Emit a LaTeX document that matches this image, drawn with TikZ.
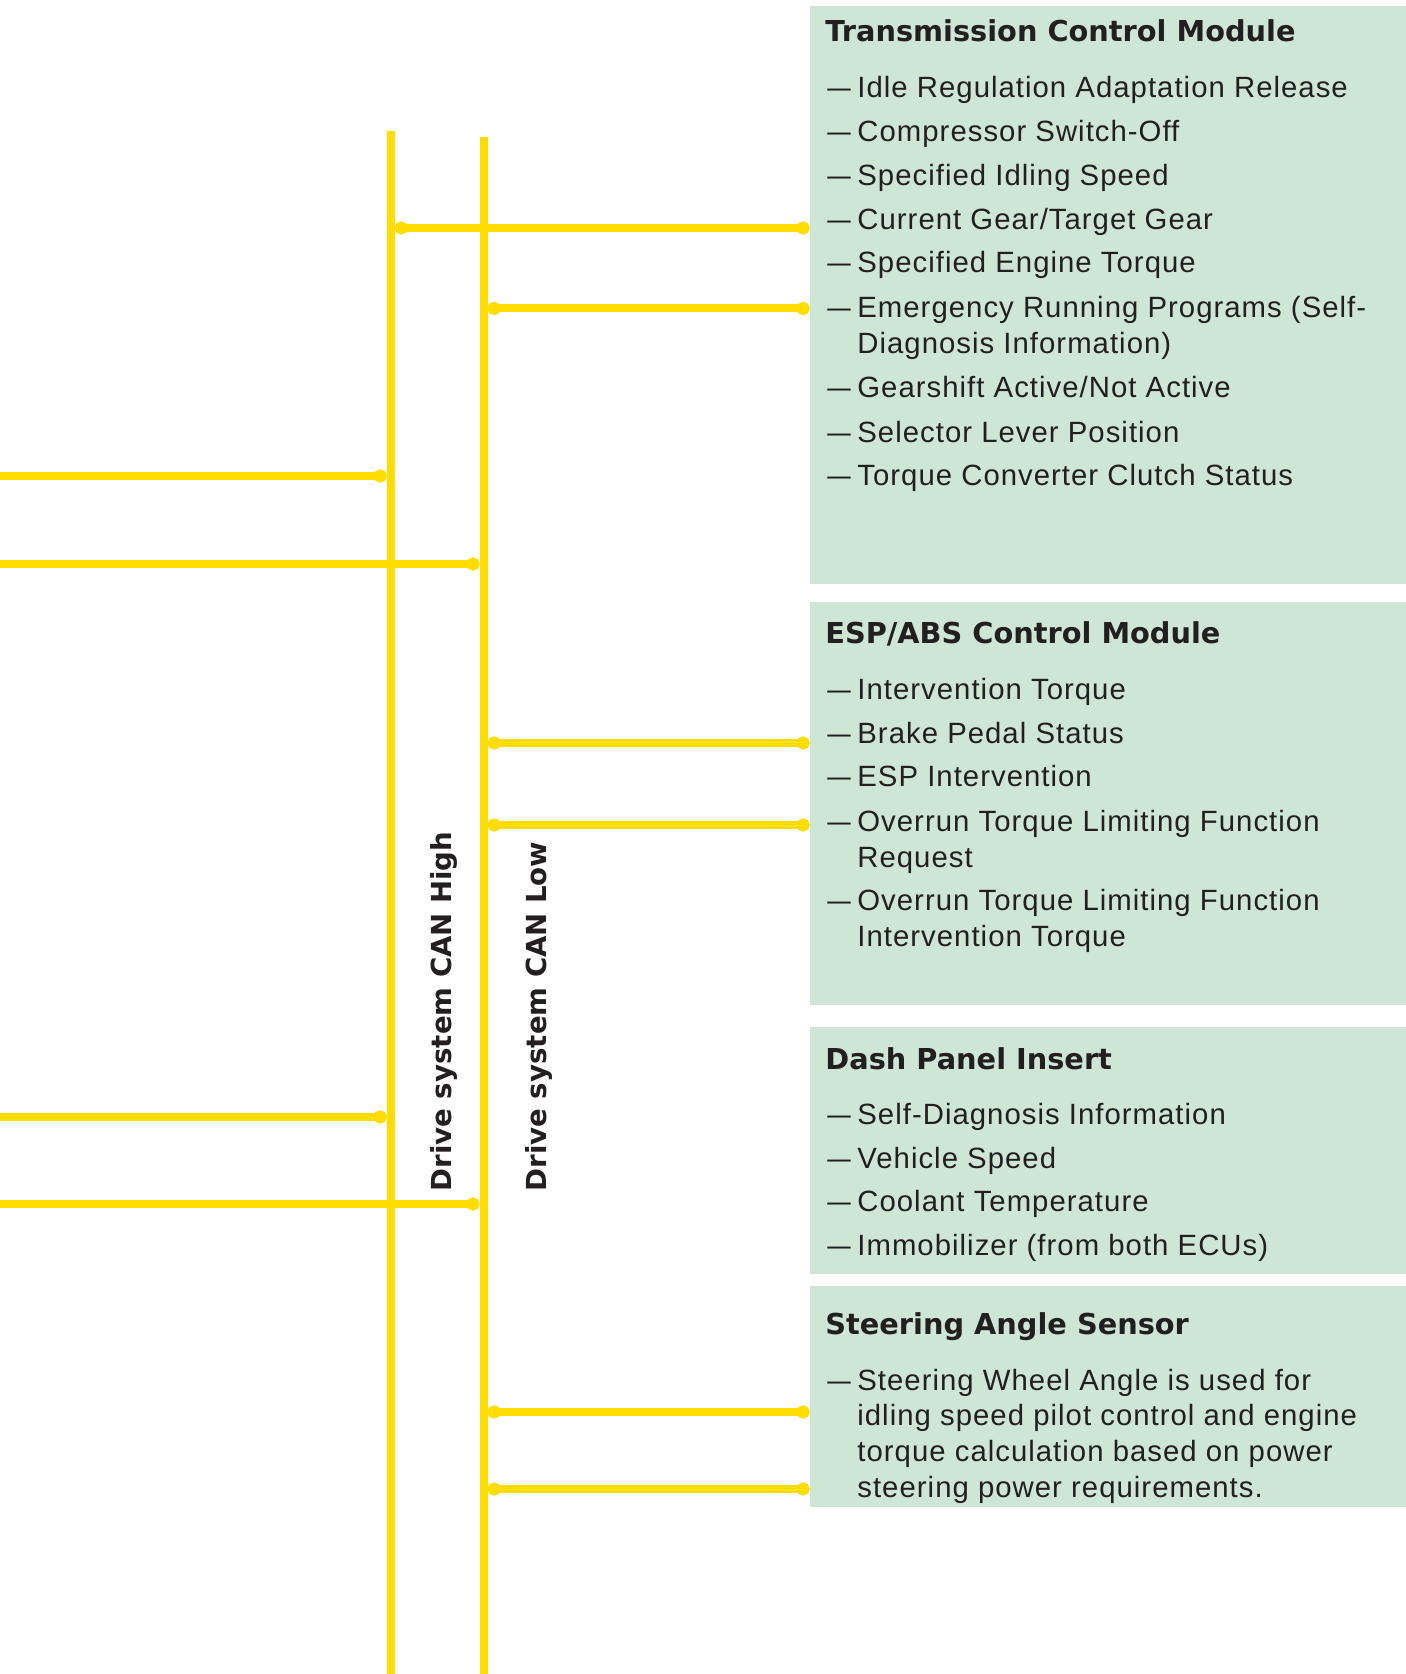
\documentclass[tikz,border=0pt]{standalone}
\usepackage{fontspec}
\setmainfont{Liberation Sans}[LetterSpace=3.5]
\newfontfamily\headfont{DejaVu Sans}
\usetikzlibrary{arrows.meta,fit}

\definecolor{canyellow}{RGB}{255,221,0}
\definecolor{modgreen}{RGB}{205,230,213}
\definecolor{inkblack}{RGB}{35,31,32}

% dash with hanging indent
\newcommand{\dashitem}[1]{\makebox[15pt][l]{\scalebox{0.8}[1]{—}}\begin{tabular}[t]{@{}l@{}}#1\end{tabular}}

\tikzset{
  bus/.style={draw=canyellow, line width=4pt},
  tap/.style={draw=canyellow, line width=4pt, {Circle[length=6.5pt]}-{Circle[length=6.5pt]}},
  feed/.style={draw=canyellow, line width=4pt, -{Circle[length=6.5pt]}},
  modbox/.style={fill=modgreen, inner sep=0pt},
  modtitle/.style={anchor=base west, inner sep=0pt, text=inkblack,
    font=\headfont\bfseries\fontsize{14.4}{17}\selectfont},
  moditem/.style={anchor=base west, inner sep=0pt, text=inkblack,
    font=\fontsize{14.66}{17.9}\selectfont},
  buslabel/.style={anchor=base west, rotate=90, inner sep=0pt, text=inkblack,
    font=\headfont\bfseries\fontsize{13.8}{16}\selectfont},
}

\begin{document}
\begin{tikzpicture}[x=0.5pt,y=-0.5pt]
  \useasboundingbox (0,0) rectangle (1406,1674);

  % Module boxes
  \node[modbox, fit={(810,6) (1406,584)}] (tcm) {};
  \node[modbox, fit={(810,602) (1406,1005)}] (esp) {};
  \node[modbox, fit={(810,1027) (1406,1274)}] (dpi) {};
  \node[modbox, fit={(810,1286) (1406,1507)}] (sas) {};

  % CAN bus lines
  \coordinate (hiTop) at (390.7,131);
  \coordinate (hiBot) at (390.7,1674);
  \coordinate (loTop) at (483.6,137);
  \coordinate (loBot) at (483.6,1674);
  \coordinate (edge) at (0,0);

  \draw[bus] (hiTop) -- (hiBot);
  \draw[bus] (loTop) -- (loBot);

  % Taps from the bus to the modules
  \foreach \yy/\bus/\mod in {228/hiTop/tcm, 308.5/loTop/tcm, 743/loTop/esp,
                             825/loTop/esp, 1412/loTop/sas, 1489/loTop/sas}
    \draw[tap] ([xshift=2pt]\bus |- 0,\yy) -- (\mod.west |- 0,\yy);

  % Feeds coming in from the left
  \foreach \yy/\bus in {476/hiTop, 564/loTop, 1117/hiTop, 1204/loTop}
    \draw[feed] (edge |- 0,\yy) -- ([xshift=-2pt]\bus |- 0,\yy);

  % Bus labels
  \node[buslabel] (hiLabel) at (451.7,1191.7) {Drive system CAN High};
  \node[buslabel] (loLabel) at (546,1191.7) {Drive system CAN Low};

  % Transmission Control Module
  \node[modtitle] (tcmTitle) at (825,41.5) {Transmission Control Module};
  \foreach \yy/\txt [count=\i] in {98/Idle Regulation Adaptation Release,
      142/Compressor Switch-Off, 185.5/Specified Idling Speed,
      229.5/{Current Gear/Target Gear}, 273/Specified Engine Torque,
      318/{Emergency Running Programs (Self-\\Diagnosis Information)},
      397/{Gearshift Active/Not Active}, 442/Selector Lever Position,
      485.5/Torque Converter Clutch Status}
    \node[moditem] (tcm\i) at (827,\yy) {\dashitem{\txt}};

  % ESP/ABS Control Module
  \node[modtitle] (espTitle) at (825,643.5) {ESP/ABS Control Module};
  \foreach \yy/\txt [count=\i] in {699/Intervention Torque,
      743/Brake Pedal Status, 786.7/ESP Intervention,
      831.5/{Overrun Torque Limiting Function\\Request},
      910.5/{Overrun Torque Limiting Function\\Intervention Torque}}
    \node[moditem] (esp\i) at (827,\yy) {\dashitem{\txt}};

  % Dash Panel Insert
  \node[modtitle] (dpiTitle) at (825,1069.5) {Dash Panel Insert};
  \foreach \yy/\txt [count=\i] in {1124/Self-Diagnosis Information,
      1168/Vehicle Speed, 1211.5/Coolant Temperature,
      1255.3/{Immobilizer (from both ECUs)}}
    \node[moditem] (dpi\i) at (827,\yy) {\dashitem{\txt}};

  % Steering Angle Sensor
  \node[modtitle] (sasTitle) at (825,1334.5) {Steering Angle Sensor};
  \node[moditem] (sas1) at (827,1390) {\dashitem{Steering Wheel Angle is used for\\
    idling speed pilot control and engine\\torque calculation based on power\\
    steering power requirements.}};

\end{tikzpicture}
\end{document}
